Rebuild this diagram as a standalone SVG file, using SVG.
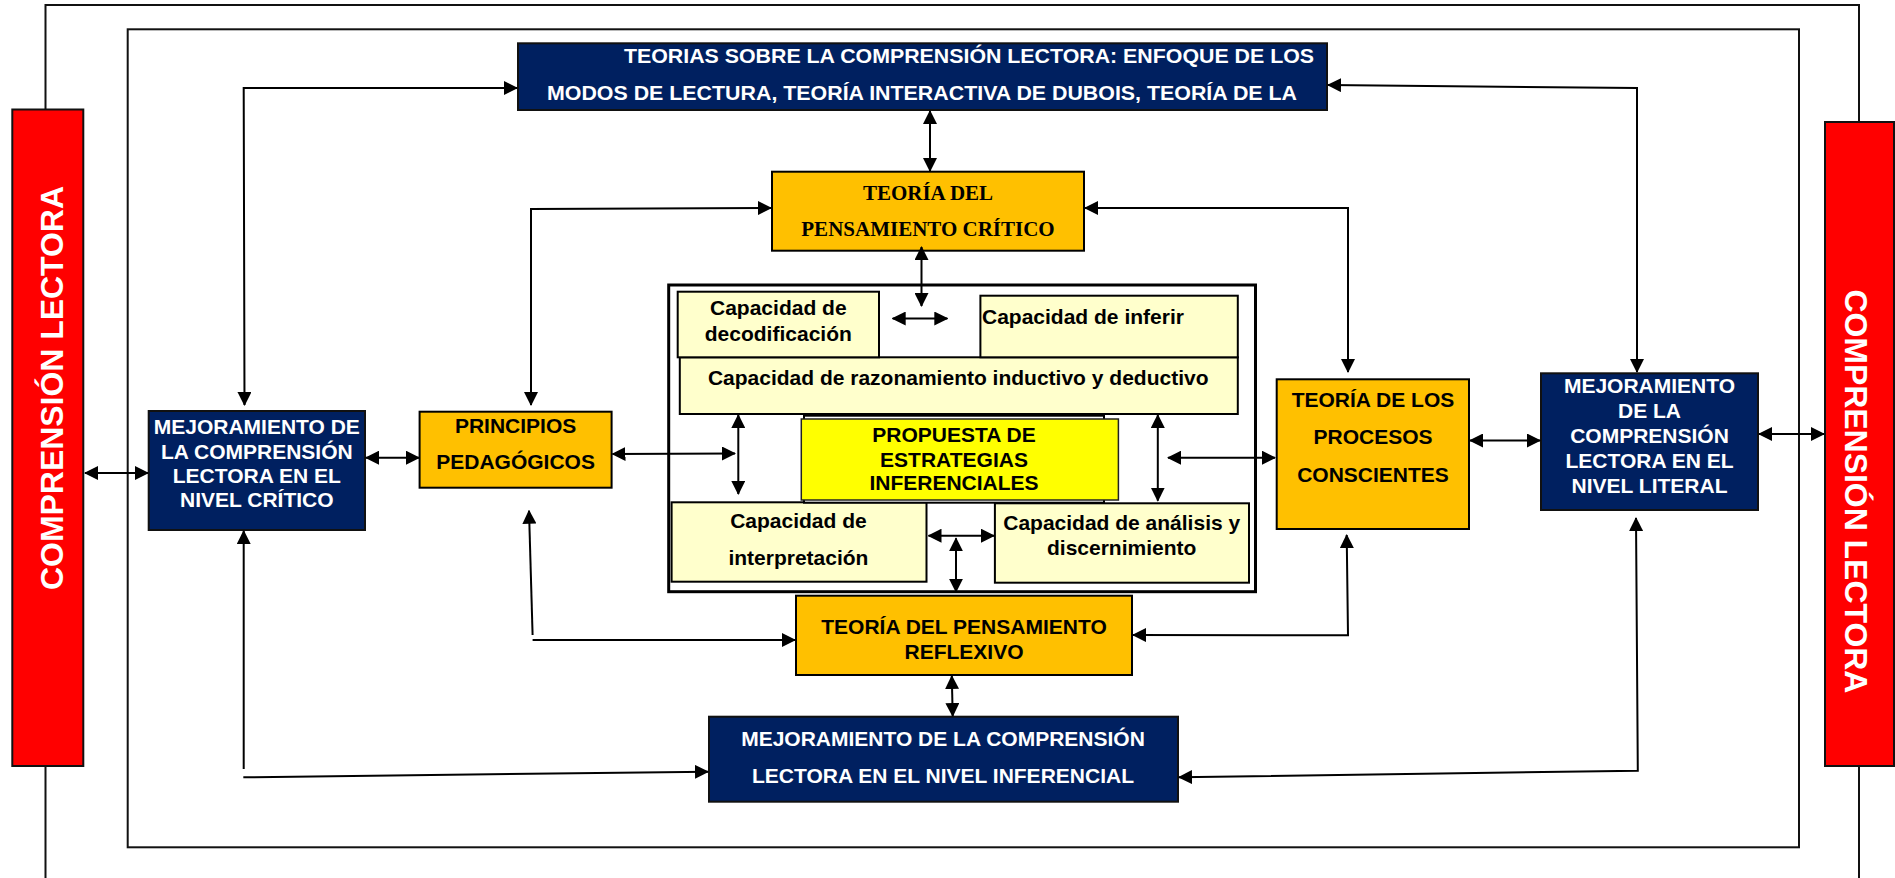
<svg xmlns="http://www.w3.org/2000/svg" width="1895" height="878" viewBox="0 0 1895 878">
<defs>
<marker id="ah" viewBox="0 0 14 14" refX="13" refY="7" markerWidth="14" markerHeight="14" markerUnits="userSpaceOnUse" orient="auto-start-reverse"><path d="M0,0 L14,7 L0,14 z" fill="#000"/></marker>
<style>
.frame{fill:none;stroke:#111;stroke-width:2}
.c{fill:none;stroke:#000;stroke-width:2}
.b{marker-start:url(#ah);marker-end:url(#ah)}
.e{marker-end:url(#ah)}
.s{marker-start:url(#ah)}
.red{fill:#FF0000;stroke:#111;stroke-width:2}
.navy{fill:#002060;stroke:#111;stroke-width:2}
.org{fill:#FFC000;stroke:#000;stroke-width:2}
.ly{fill:#FFFFCC;stroke:#000;stroke-width:2}
.yel{fill:#FFFF00;stroke:#222;stroke-width:1.5}
text{font-family:"Liberation Sans",Arial,sans-serif;font-weight:bold;font-size:21px}
.w{fill:#fff}
.k{fill:#000}
.m{text-anchor:middle}
.serif{font-family:"Liberation Serif","Times New Roman",serif}
.big{font-size:31.5px;fill:#fff;text-anchor:middle}
</style>
</defs>

<g id="frames">
<path class="frame" d="M45.5,110 L45.5,5 L1859,5 L1859,122"/>
<path class="frame" d="M45.5,766 L45.5,878 M1859,766 L1859,878"/>
<rect class="frame" x="127.7" y="29.3" width="1671.3" height="818"/>
</g>

<g id="red-left">
<rect class="red" x="12.3" y="109.5" width="71" height="656.5"/>
<text class="big" transform="translate(63,388) rotate(-90)" textLength="404" lengthAdjust="spacingAndGlyphs">COMPRENSIÓN LECTORA</text>
</g>
<g id="red-right">
<rect class="red" x="1825" y="122" width="69" height="644"/>
<text class="big" transform="translate(1845,491.4) rotate(90)" textLength="404" lengthAdjust="spacingAndGlyphs">COMPRENSIÓN LECTORA</text>
</g>

<g id="top-teorias">
<rect class="navy" x="518" y="43.3" width="809" height="66.7"/>
<text class="w" x="624" y="63.3" textLength="690" lengthAdjust="spacingAndGlyphs">TEORIAS SOBRE LA COMPRENSIÓN LECTORA: ENFOQUE DE LOS</text>
<text class="w" x="547" y="100" textLength="750" lengthAdjust="spacingAndGlyphs">MODOS DE LECTURA, TEORÍA INTERACTIVA DE DUBOIS, TEORÍA DE LA</text>
</g>

<g id="pensamiento-critico">
<rect class="org" x="772" y="171.7" width="312" height="79"/>
<text class="k m serif" x="928" y="200">TEORÍA DEL</text>
<text class="k m serif" x="928" y="236">PENSAMIENTO CRÍTICO</text>
</g>

<g id="nivel-critico">
<rect class="navy" x="148.7" y="411" width="216.3" height="119"/>
<text class="w m" x="256.8" y="434.3">MEJORAMIENTO DE</text>
<text class="w m" x="256.8" y="459">LA COMPRENSIÓN</text>
<text class="w m" x="256.8" y="483.3">LECTORA EN EL</text>
<text class="w m" x="256.8" y="507.3">NIVEL CRÍTICO</text>
</g>

<g id="principios">
<rect class="org" x="419.6" y="411.7" width="192" height="76"/>
<text class="k m" x="515.6" y="432.7">PRINCIPIOS</text>
<text class="k m" x="515.6" y="469.3">PEDAGÓGICOS</text>
</g>

<g id="procesos">
<rect class="org" x="1276.7" y="379.3" width="192.3" height="149.7"/>
<text class="k m" x="1373" y="407">TEORÍA DE LOS</text>
<text class="k m" x="1373" y="444">PROCESOS</text>
<text class="k m" x="1373" y="481.7">CONSCIENTES</text>
</g>

<g id="nivel-literal">
<rect class="navy" x="1541" y="373.3" width="217" height="136.7"/>
<text class="w m" x="1649.5" y="393.3">MEJORAMIENTO</text>
<text class="w m" x="1649.5" y="418.3">DE LA</text>
<text class="w m" x="1649.5" y="443.3">COMPRENSIÓN</text>
<text class="w m" x="1649.5" y="468.3">LECTORA EN EL</text>
<text class="w m" x="1649.5" y="493.3">NIVEL LITERAL</text>
</g>

<g id="contenedor">
<rect x="668.7" y="285" width="586.8" height="306.7" fill="#fff" stroke="#000" stroke-width="3"/>
</g>

<g id="razonamiento">
<rect class="ly" x="679.8" y="357.3" width="558" height="56.7"/>
<text class="k m" x="958.2" y="385">Capacidad de razonamiento inductivo y deductivo</text>
</g>
<g id="decodificacion">
<rect class="ly" x="677.7" y="291.7" width="201.3" height="65.6"/>
<text class="k m" x="778.3" y="315">Capacidad de</text>
<text class="k m" x="778.3" y="340.7">decodificación</text>
</g>
<g id="inferir">
<rect class="ly" x="980.4" y="295.7" width="257.4" height="61.6"/>
<text class="k" x="982" y="324.3">Capacidad de inferir</text>
</g>
<g id="interpretacion">
<rect class="ly" x="671.6" y="502.3" width="254.9" height="79.4"/>
<text class="k m" x="798.4" y="528.3">Capacidad de</text>
<text class="k m" x="798.4" y="565">interpretación</text>
</g>
<g id="analisis">
<rect class="ly" x="994.9" y="503.3" width="254.1" height="79.4"/>
<text class="k m" x="1121.7" y="530">Capacidad de análisis y</text>
<text class="k m" x="1121.7" y="555">discernimiento</text>
</g>

<g id="propuesta">
<rect x="804" y="415.7" width="300" height="87" fill="#fff" stroke="#000" stroke-width="2"/>
<rect class="yel" x="801.3" y="419" width="317.1" height="81"/>
<text class="k m" x="954" y="441.7">PROPUESTA DE</text>
<text class="k m" x="954" y="466.7">ESTRATEGIAS</text>
<text class="k m" x="954" y="490">INFERENCIALES</text>
</g>

<g id="reflexivo">
<rect class="org" x="796" y="595.7" width="336" height="79.3"/>
<text class="k m" x="964" y="634.3">TEORÍA DEL PENSAMIENTO</text>
<text class="k m" x="964" y="659.3">REFLEXIVO</text>
</g>

<g id="nivel-inferencial">
<rect class="navy" x="709" y="716.7" width="469" height="85"/>
<text class="w m" x="943" y="745.7">MEJORAMIENTO DE LA COMPRENSIÓN</text>
<text class="w m" x="943" y="782.7">LECTORA EN EL NIVEL INFERENCIAL</text>
</g>

<g id="connectors">
<path class="c b" d="M244.5,405 L243.7,88 L517,88"/>
<path class="c b" d="M1328,85 L1637,88 L1637,372"/>
<path class="c b" d="M930,111 L930,171"/>
<path class="c b" d="M531,405 L531,209 L771,208"/>
<path class="c b" d="M1085,208 L1348,208 L1348,372"/>
<path class="c b" d="M921.5,247 L921.5,306"/>
<path class="c b" d="M892.7,318.5 L947.3,318.5"/>
<path class="c b" d="M85,473 L148,473"/>
<path class="c b" d="M366,457.7 L419,457.7"/>
<path class="c b" d="M612.5,454 L735,453.5"/>
<path class="c b" d="M738.3,415 L738.3,494"/>
<path class="c b" d="M1157.8,415 L1157.8,500.7"/>
<path class="c b" d="M1168,457.7 L1275,457.7"/>
<path class="c b" d="M1470,440.5 L1540,440.5"/>
<path class="c b" d="M1759,434 L1824,434"/>
<path class="c b" d="M928.5,535.7 L994,535.7"/>
<path class="c b" d="M956,538.3 L956,591.7"/>
<path class="c b" d="M951.8,676 L952.7,716"/>
<path class="c s" d="M243.7,531 L243.7,769"/>
<path class="c e" d="M243.3,777.3 L708,771.7"/>
<path class="c s" d="M529,510.7 L532.6,635"/>
<path class="c e" d="M532.6,640 L795,640"/>
<path class="c b" d="M1346.7,535 L1348,635.3 L1133,635"/>
<path class="c b" d="M1636,518 L1637.8,770.7 L1179,777.3"/>
</g>
</svg>
